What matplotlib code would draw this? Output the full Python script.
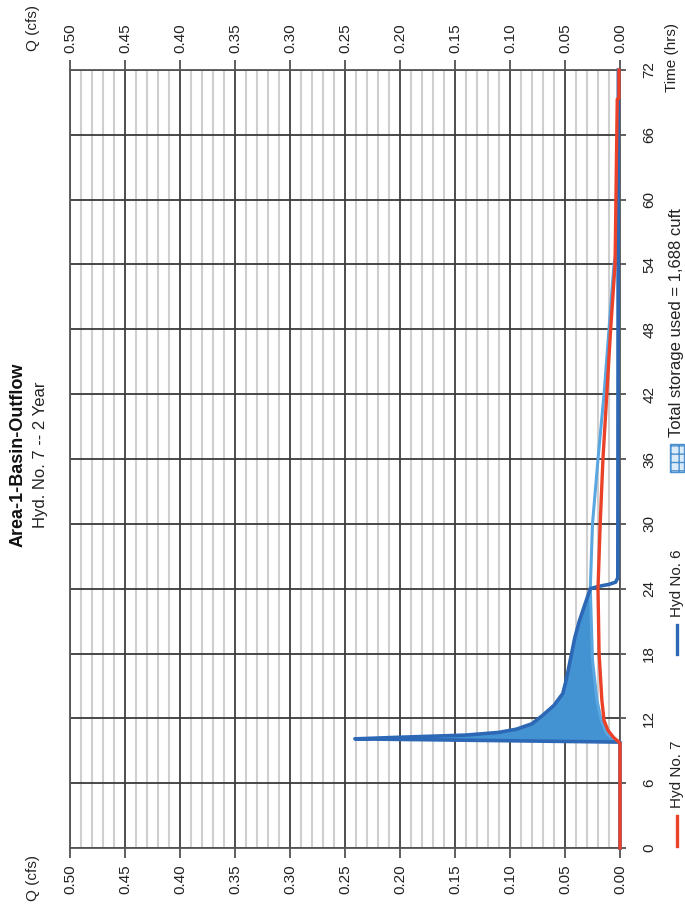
import numpy as np
import matplotlib
matplotlib.use('Agg')
import matplotlib.pyplot as plt
from matplotlib.lines import Line2D
from matplotlib.patches import Rectangle

plt.rcParams['font.family'] = ['Liberation Sans', 'DejaVu Sans']

# Hyd No. 6 - inflow hydrograph (hrs, cfs)
inflow_t = [0, 9.6, 9.8, 10.1, 10.25, 10.45, 10.7, 11.0, 11.5, 12.3, 13.2, 14.3,
            15.5, 16.5, 18.0, 19.5, 21.0, 22.5, 24.0, 24.2, 24.4, 24.6, 25.0, 72]
inflow_q = [0, 0, 0.0, 0.241, 0.20, 0.14, 0.11, 0.094, 0.08, 0.07, 0.06, 0.052,
            0.049, 0.047, 0.044, 0.041, 0.037, 0.032, 0.027, 0.02, 0.01, 0.004, 0.002, 0.0015]

# Hyd No. 7 - routed outflow (hrs, cfs)
outflow_t = [0, 9.7, 9.8, 10.25, 10.9, 11.8, 13.7, 18.0, 24.0, 30.0, 36.0, 42.0,
             48.0, 54.0, 69.3, 69.4, 72]
outflow_q = [0, 0, 0.001, 0.006, 0.011, 0.0145, 0.0165, 0.019, 0.020, 0.018, 0.0155, 0.012,
             0.0085, 0.0045, 0.0025, 0.001, 0.001]

# storage envelope (lower edge of the shaded volume)
edge_t = [9.8, 10.2, 10.6, 11.0, 11.8, 13.7, 17.4, 24.0, 30.0, 36.0, 42.0, 48.0, 54.0, 56.0, 72]
edge_q = [0, 0.008, 0.012, 0.014, 0.017, 0.021, 0.025, 0.027, 0.025, 0.020, 0.0145, 0.010,
          0.0055, 0.002, 0.001]

q_ticks = np.arange(0, 0.501, 0.05)
t_ticks = np.arange(0, 73, 6)

title = "Area-1-Basin-Outflow"
subtitle = "Hyd. No. 7 -- 2 Year"
storage_label = "Total storage used = 1,688 cuft"

W, H = 685, 913
fig = plt.figure(figsize=(W / 100, H / 100), dpi=100)
ax = fig.add_axes([70 / W, 1 - 848 / H, 550 / W, 778 / H])

# page is laid out sideways: Q runs right-to-left, time runs bottom-to-top
ax.set_xlim(0.5, 0.0)
ax.set_ylim(0, 72)

ax.set_xticks(q_ticks)
ax.set_xticks(np.arange(0, 0.501, 0.01), minor=True)
ax.set_yticks(t_ticks)
ax.set_xticklabels([f"{v:.2f}" for v in q_ticks], rotation=90)
ax.set_yticklabels([str(v) for v in t_ticks], rotation=90, va='center')

ax.grid(which='minor', axis='x', color='#cfcfcf', lw=1.5, zorder=0)
ax.grid(which='major', axis='x', color='#1e1e1e', lw=1.1, zorder=0.5)
ax.grid(which='major', axis='y', color='#3a3a3a', lw=1.3, zorder=0.5)
ax.set_axisbelow(True)

ax.tick_params(axis='x', which='major', top=True, bottom=True, labeltop=True, labelbottom=True,
               direction='out', length=7, width=1.1, color='#333333', pad=5,
               labelsize=11, labelcolor='#222222')
ax.tick_params(axis='x', which='minor', top=False, bottom=False)
ax.tick_params(axis='y', which='major', left=False, right=True, labelleft=False, labelright=True,
               direction='out', length=4, width=1.1, color='#333333', pad=12,
               labelsize=11, labelcolor='#222222')
for s in ax.spines.values():
    s.set_color('#555555')
    s.set_linewidth(1.3)

# shaded storage volume between inflow and envelope
i0 = inflow_t.index(9.8)
i1 = inflow_t.index(24.0)
e1 = edge_t.index(24.0)
poly_t = inflow_t[i0:i1 + 1] + edge_t[:e1 + 1][::-1]
poly_q = inflow_q[i0:i1 + 1] + edge_q[:e1 + 1][::-1]
ax.fill(poly_q, poly_t, color='#4393d3', lw=0, zorder=2)

ax.plot(edge_q, edge_t, color='#5aa6e0', lw=2.2, zorder=3, solid_capstyle='butt')
ax.plot(inflow_q, inflow_t, color='#2d68b6', lw=2.6, zorder=4, clip_on=False)
ax.plot(outflow_q, outflow_t, color='#ea4128', lw=2.4, zorder=5, clip_on=False)

# titles and axis captions, all rotated with the page
fig.text(18 / W, 1 - 455 / H, title, rotation=90, ha='center', va='center',
         fontsize=13, fontweight='bold', color='#111111')
fig.text(41 / W, 1 - 455 / H, subtitle, rotation=90, ha='center', va='center',
         fontsize=12, color='#222222')
fig.text(33 / W, 1 - 28 / H, "Q (cfs)", rotation=90, ha='center', va='center',
         fontsize=11, color='#222222')
fig.text(33 / W, 1 - 878 / H, "Q (cfs)", rotation=90, ha='center', va='center',
         fontsize=11, color='#222222')
fig.text(672 / W, 1 - 58 / H, "Time (hrs)", rotation=90, ha='center', va='center',
         fontsize=11, color='#222222')

# legend
lx = 677 / W
fig.add_artist(Line2D([lx, lx], [1 - 846 / H, 1 - 816 / H], color='#ea4128', lw=2.4))
fig.text(lx, 1 - 808 / H, "Hyd No. 7", rotation=90, rotation_mode='anchor',
         ha='left', va='center', fontsize=11, color='#222222')
fig.add_artist(Line2D([lx, lx], [1 - 654 / H, 1 - 625 / H], color='#2d68b6', lw=2.4))
fig.text(lx, 1 - 617 / H, "Hyd No. 6", rotation=90, rotation_mode='anchor',
         ha='left', va='center', fontsize=11, color='#222222')
fig.add_artist(Rectangle((670 / W, 1 - 472 / H), 14 / W, 28 / H, facecolor='#dcebf8',
                         edgecolor='#4a8fd0', hatch='++', lw=1.0, transform=fig.transFigure))
fig.text(lx, 1 - 437 / H, storage_label, rotation=90, rotation_mode='anchor',
         ha='left', va='center', fontsize=12, color='#222222')

fig.savefig('out.png', dpi=100)
